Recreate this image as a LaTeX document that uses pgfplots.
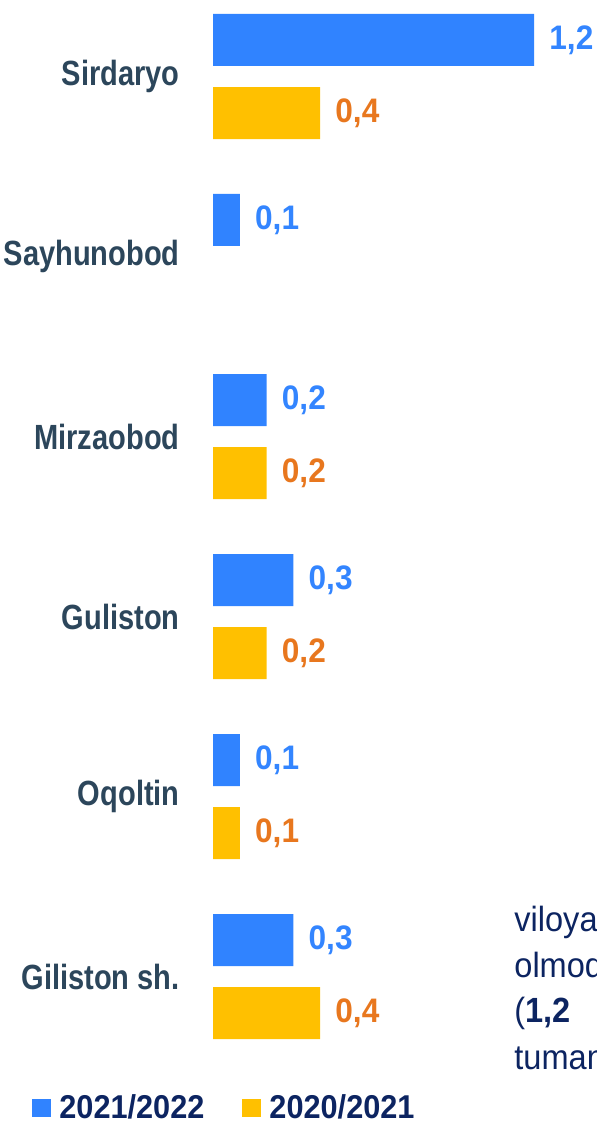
\documentclass[border=0pt]{standalone}
\usepackage{fontspec}
\setmainfont{Liberation Sans}[FakeStretch=0.83]
\newfontfamily\numfont{Liberation Sans}[FakeStretch=0.93]
\usepackage{pgfplots}
\pgfplotsset{compat=1.18}
\usepackage{pgfplotstable}

\definecolor{barblue}{HTML}{3083FF}
\definecolor{baryellow}{HTML}{FFC000}
\definecolor{valblue}{HTML}{3385FF}
\definecolor{valorange}{HTML}{E8771E}
\definecolor{catcol}{HTML}{2C465B}
\definecolor{navy}{HTML}{0C2461}

% i = region index, top to bottom
\pgfplotstableread{
i v
0 1.2
1 0.1
2 0.2
3 0.3
4 0.1
5 0.3
}\curyear
\pgfplotstableread{
i v
0 0.4
2 0.2
3 0.2
4 0.1
5 0.4
}\prevyear

\begin{document}
\begin{tikzpicture}
\useasboundingbox (0pt,0pt) rectangle (298pt,561.5pt);
\begin{axis}[
    at={(106.5pt,561.5pt)}, anchor=north west,
    width=187.25pt, height=533.25pt, scale only axis,
    xmin=0, xmax=1.4, ymin=-0.425, ymax=5.5, y dir=reverse,
    axis line style={draw=none},
    xtick=\empty, major tick length=0pt,
    ytick={0,1,2,3,4,5},
    yticklabels={Sirdaryo, Sayhunobod, Mirzaobod, Guliston, Oqoltin, Giliston sh.},
    yticklabel style={font=\bfseries\fontsize{17.5}{17.5}\selectfont,
                      text=catcol, anchor=east, inner sep=0pt, xshift=-16.5pt},
    xbar, bar width=26pt, bar shift=0pt,
    nodes near coords, nodes near coords align=horizontal,
    every node near coord/.append style={
        font=\numfont\bfseries\fontsize{17}{17}\selectfont,
        anchor=west, inner sep=0pt, xshift=7.5pt},
    /pgf/number format/.cd, fixed, fixed zerofill, precision=1,
        use comma, assume math mode=true,
    /pgfplots/.cd,
    legend columns=2,
    legend image code/.code={\fill[#1,draw=none] (0pt,-4.5pt) rectangle (9.5pt,4.5pt);},
    legend style={draw=none, fill=none, at={(-0.4833,-0.0389)}, anchor=west,
        font=\numfont\bfseries\fontsize{16.5}{16.5}\selectfont, text=navy,
        inner sep=0pt, nodes={inner sep=0pt},
        /tikz/every odd column/.append style={column sep=4pt},
        /tikz/every even column/.append style={column sep=19pt}},
  ]
\addplot[fill=barblue, draw=none,
    every node near coord/.append style={text=valblue}]
    table[x=v, y expr=\thisrow{i}-0.2028] {\curyear};
\addlegendentry{2021/2022}
\addplot[fill=baryellow, draw=none,
    every node near coord/.append style={text=valorange}]
    table[x=v, y expr=\thisrow{i}+0.2028] {\prevyear};
\addlegendentry{2020/2021}
\end{axis}

\begin{scope}[every node/.style={anchor=base west, inner sep=0pt, text=navy,
    font=\numfont\fontsize{17.5}{17.5}\selectfont}]
\node at (257pt,95.5pt) {viloyatda};
\node at (257pt,72.5pt) {olmodan};
\node at (257pt,50pt) {(\textbf{1,2}\quad ming tonna)};
\node at (257pt,26.5pt) {tumanida};
\end{scope}
\end{tikzpicture}
\end{document}
